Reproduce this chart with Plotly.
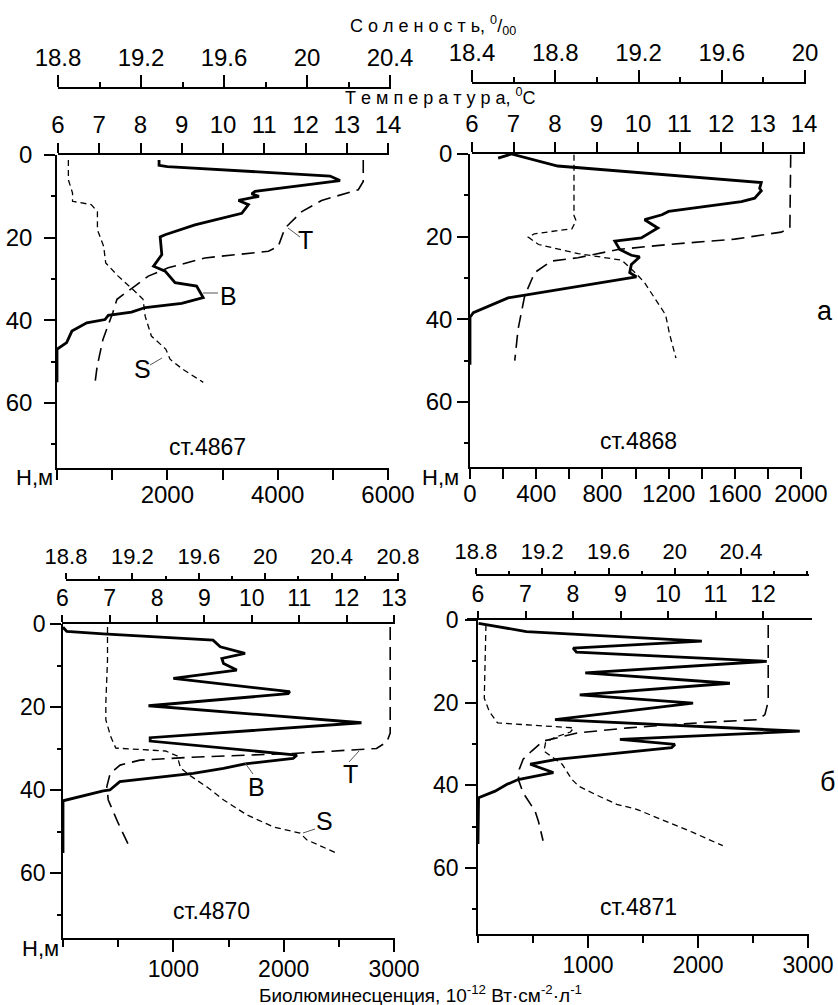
import plotly.graph_objects as go

W, H = 838, 1005
FONT = "Liberation Sans, Arial, sans-serif"

# ---------------- data (depth, m ; values) ----------------
# ст.4867
st4867_B_depth = [1.2, 2.5, 2.8, 5.1, 6.2, 8.8, 9.4, 10.0, 11.0, 12.0, 14.1, 15.7, 16.9, 19.3, 19.8, 24.1, 26.9,
                  28.1, 30.9, 31.7, 34.5, 35.9, 36.9, 38.0, 38.8, 39.8, 40.6, 42.6, 45.4, 47.0, 55.0]
st4867_B = [1850, 1850, 2000, 4950, 5130, 3590, 3530, 3660, 3290, 3470, 3350, 2870, 2500, 1960, 1870, 1900, 1750,
            1960, 2140, 2530, 2650, 2260, 1600, 1350, 930, 870, 540, 270, 175, 0, 0]
st4867_T_depth = [1.2, 6.4, 8.4, 11.0, 13.7, 17.7, 22.1, 23.3, 24.9, 27.3, 29.3, 31.7, 34.9, 38.1, 44.6, 51.1, 54.9]
st4867_T = [13.40, 13.40, 13.28, 12.39, 11.91, 11.50, 11.34, 11.10, 9.56, 8.67, 8.19, 7.87, 7.43, 7.33, 7.09, 6.95, 6.90]
st4867_S_depth = [1.2, 6.0, 9.2, 11.2, 12.0, 13.7, 18.1, 22.1, 26.1, 29.3, 32.5, 34.9, 39.0, 43.8, 47.0, 49.4, 51.8, 55.0]
st4867_S = [18.85, 18.85, 18.87, 18.87, 18.96, 18.99, 18.99, 19.02, 19.03, 19.09, 19.16, 19.21, 19.22, 19.25, 19.32,
            19.34, 19.40, 19.50]

# ст.4868
st4868_B_depth = [1.0, 0.0, 2.9, 6.9, 8.3, 8.9, 10.7, 11.5, 13.9, 14.7, 15.9, 17.9, 20.3, 21.1, 23.1, 24.5, 24.9,
                  26.7, 28.7, 29.7, 34.8, 38.4, 39.5, 51.0]
st4868_B = [170, 250, 530, 1760, 1750, 1760, 1720, 1640, 1200, 1160, 1055, 1135, 1035, 875, 905, 975, 1025,
            975, 965, 1005, 230, 20, 0, 0]
st4868_T_depth = [0.2, 17.9, 18.9, 20.6, 21.9, 23.1, 25.1, 25.9, 28.7, 34.3, 42.4, 50.0]
st4868_T = [13.68, 13.66, 13.45, 12.33, 10.72, 9.52, 8.55, 7.91, 7.51, 7.27, 7.11, 7.03]
st4868_S_depth = [0.2, 14.9, 16.1, 18.1, 19.3, 20.1, 21.9, 24.1, 25.7, 29.0, 31.2, 34.9, 38.9, 43.7, 49.4]
st4868_S = [18.89, 18.89, 18.90, 18.88, 18.70, 18.67, 18.72, 18.91, 19.12, 19.19, 19.23, 19.28, 19.33, 19.35, 19.38]

# ст.4870
st4870_B_depth = [0.8, 1.8, 2.4, 3.9, 5.5, 7.1, 8.3, 9.5, 11.1, 13.1, 16.3, 16.8, 19.7, 23.8, 27.4, 28.2, 31.6,
                  32.4, 33.7, 34.8, 36.0, 38.0, 40.0, 40.2, 42.6, 55.2]
st4870_B = [0, 35, 365, 1360, 1425, 1650, 1440, 1455, 1575, 1000, 2055, 2040, 775, 2705, 790, 790, 2120,
            2085, 1650, 1455, 1180, 515, 425, 365, 0, 0]
st4870_T_depth = [0.7, 26.3, 28.4, 30.0, 31.2, 32.1, 32.8, 34.0, 36.0, 39.2, 42.4, 48.0, 54.0]
st4870_T = [12.92, 12.92, 12.85, 12.63, 10.87, 8.73, 7.64, 7.22, 7.01, 6.94, 6.97, 7.18, 7.43]
st4870_S_depth = [0.7, 8.7, 19.0, 23.1, 27.2, 29.9, 30.6, 31.8, 34.7, 36.6, 39.3, 42.4, 46.0, 48.9, 50.4, 52.0, 55.2]
st4870_S = [19.05, 19.05, 19.04, 19.04, 19.07, 19.10, 19.40, 19.47, 19.49, 19.55, 19.65, 19.75, 19.89, 20.05,
            20.21, 20.25, 20.43]

# ст.4871
st4871_B_depth = [0.8, 2.8, 5.1, 6.8, 7.8, 10.0, 12.8, 15.3, 18.1, 20.1, 24.1, 26.9, 28.9, 30.1, 30.9, 33.7,
                  34.9, 36.9, 38.6, 39.8, 41.4, 43.0, 54.2]
st4871_B = [5, 440, 2035, 865, 895, 2625, 975, 2290, 925, 1955, 700, 2925, 1290, 1790, 1760, 715,
            475, 685, 365, 260, 155, 5, 0]
st4871_T_depth = [1.2, 19.7, 22.9, 24.1, 24.7, 26.1, 27.3, 28.5, 29.3, 31.7, 33.7, 36.1, 38.6, 41.8, 43.8, 46.2,
                  48.6, 51.8, 53.4]
st4871_T = [12.11, 12.11, 12.04, 11.90, 10.85, 9.16, 8.11, 7.69, 7.37, 7.13, 6.95, 6.87, 6.85, 6.95, 7.06, 7.20,
            7.27, 7.34, 7.37]
st4871_S_depth = [1.2, 14.9, 18.9, 22.1, 24.9, 26.1, 27.1, 28.5, 29.7, 31.7, 32.9, 34.9, 38.6, 40.2, 42.2, 44.6,
                  45.8, 47.4, 49.4, 51.4, 54.6]
st4871_S = [18.86, 18.85, 18.85, 18.88, 18.93, 19.39, 19.37, 19.27, 19.22, 19.21, 19.25, 19.32, 19.38, 19.42,
            19.52, 19.65, 19.77, 19.87, 19.99, 20.11, 20.29]

station_names = ["ст.4867", "ст.4868", "ст.4870", "ст.4871"]

# tick labels
depth_ticks = [0, 20, 40, 60]
temp_ticks = [[6, 7, 8, 9, 10, 11, 12, 13, 14], [6, 7, 8, 9, 10, 11, 12, 13, 14],
              [6, 7, 8, 9, 10, 11, 12, 13], [6, 7, 8, 9, 10, 11, 12]]
sal_ticks = [[18.8, 19.2, 19.6, 20.0, 20.4], [18.4, 18.8, 19.2, 19.6, 20.0],
             [18.8, 19.2, 19.6, 20.0, 20.4, 20.8], [18.8, 19.2, 19.6, 20.0, 20.4]]
bio_ticks = [[2000, 4000, 6000], [0, 400, 800, 1200, 1600, 2000], [1000, 2000, 3000], [1000, 2000, 3000]]

data = [
    (st4867_B_depth, st4867_B, st4867_T_depth, st4867_T, st4867_S_depth, st4867_S),
    (st4868_B_depth, st4868_B, st4868_T_depth, st4868_T, st4868_S_depth, st4868_S),
    (st4870_B_depth, st4870_B, st4870_T_depth, st4870_T, st4870_S_depth, st4870_S),
    (st4871_B_depth, st4871_B, st4871_T_depth, st4871_T, st4871_S_depth, st4871_S),
]

# ---------------- layout geometry (pixels) ----------------
geom = [
    dict(ycal=(155, 0, 403, 60), ydom=(468, 154.5), yso=7,
         bio=dict(dom=(57, 389), cal=(57, 0, 388, 6000), minor=1000, tl=10, mtl=10, so=-6),
         tem=dict(dom=(58, 389), cal=(58, 6, 388, 14), tl=10),
         sal=dict(dom=(58, 391), cal=(58, 18.8, 390, 20.4), pos=88, tl=12, mtl=5),
         small=False),
    dict(ycal=(154, 0, 402, 60), ydom=(467, 153.5), yso=0,
         bio=dict(dom=(470, 802), cal=(470, 0, 801, 2000), minor=200, tl=10, mtl=10, so=-6),
         tem=dict(dom=(472, 805), cal=(472, 6, 804, 14), tl=10),
         sal=dict(dom=(472, 806), cal=(472, 18.4, 805, 20.0), pos=83, tl=12, mtl=5),
         small=False),
    dict(ycal=(624, 0, 873, 60), ydom=(938, 623.5), yso=0,
         bio=dict(dom=(63, 395), cal=(63, 0, 394, 3000), minor=500, tl=12, mtl=7, so=-2),
         tem=dict(dom=(62, 395), cal=(62.3, 6, 394, 13), tl=7),
         sal=dict(dom=(66, 399), cal=(66, 18.8, 398, 20.8), pos=580, tl=6, mtl=3),
         small=True),
    dict(ycal=(620, 0, 868, 60), ydom=(934, 619.5), yso=2,
         bio=dict(dom=(478, 809), cal=(478, 0, 808, 3000), minor=500, tl=12, mtl=7, so=-2),
         tem=dict(dom=(467, 812), cal=(478, 6, 763, 12), tl=7),
         sal=dict(dom=(476, 809), cal=(476, 18.8, 741, 20.4), pos=575, tl=6, mtl=3),
         small=True),
]


def fx(p):
    return p / W


def fy(p):
    return 1 - p / H


def lin_range(cal, a, b):
    p0, v0, p1, v1 = cal
    k = (v1 - v0) / (p1 - p0)
    return [v0 + (a - p0) * k, v0 + (b - p0) * k]


def fmt(v):
    s = ("%.1f" % v)
    return s[:-2] if s.endswith(".0") else s


fig = go.Figure()
layout = dict(width=W, height=H, margin=dict(l=0, r=0, t=0, b=0, pad=0, autoexpand=False),
              paper_bgcolor="white", plot_bgcolor="rgba(0,0,0,0)", showlegend=False,
              font=dict(family=FONT, color="black", size=24))

LW = 1.6
TFS = 24
for i, g in enumerate(geom):
    bx, tx, sx = 3 * i + 1, 3 * i + 2, 3 * i + 3
    yi = i + 1
    bname = "xaxis" if bx == 1 else "xaxis%d" % bx
    yname = "yaxis" if yi == 1 else "yaxis%d" % yi
    yref = "y" if yi == 1 else "y%d" % yi
    bref = "x" if bx == 1 else "x%d" % bx
    fs = 23 if g["small"] else TFS

    common = dict(showline=True, linecolor="black", linewidth=LW, showgrid=False, zeroline=False,
                  ticks="outside", tickwidth=LW, tickcolor="black", automargin=False, tickmode="array")

    # depth axis
    layout[yname] = dict(
        domain=[fy(g["ydom"][0]), fy(g["ydom"][1])],
        range=lin_range(g["ycal"], g["ydom"][0], g["ydom"][1]),
        anchor=bref, side="left", ticklen=11, ticklabelstandoff=g["yso"],
        tickvals=depth_ticks, ticktext=[str(v) for v in depth_ticks],
        tickfont=dict(size=fs, family=FONT, color="black"),
        minor=dict(tickmode="linear", tick0=10, dtick=20, ticks="outside", ticklen=4,
                   tickwidth=LW, tickcolor="black", showgrid=False),
        **common,
    )
    # bioluminescence axis (bottom)
    b = g["bio"]
    layout[bname] = dict(
        domain=[fx(b["dom"][0]), fx(b["dom"][1])],
        range=lin_range(b["cal"], b["dom"][0], b["dom"][1]),
        anchor=yref, side="bottom", ticklen=b["tl"], ticklabelstandoff=b["so"],
        tickvals=bio_ticks[i], ticktext=[str(v) for v in bio_ticks[i]],
        tickfont=dict(size=fs, family=FONT, color="black"),
        minor=dict(tickmode="linear", tick0=0, dtick=b["minor"], ticks="outside", ticklen=b["mtl"],
                   tickwidth=LW, tickcolor="black", showgrid=False),
        **common,
    )
    # temperature axis (top)
    t = g["tem"]
    layout["xaxis%d" % tx] = dict(
        domain=[fx(t["dom"][0]), fx(t["dom"][1])],
        range=lin_range(t["cal"], t["dom"][0], t["dom"][1]),
        anchor=yref, side="top", ticklen=t["tl"],
        tickvals=temp_ticks[i], ticktext=[str(v) for v in temp_ticks[i]],
        tickfont=dict(size=fs, family=FONT, color="black"),
        **common,
    )
    # salinity axis (free, top)
    s = g["sal"]
    layout["xaxis%d" % sx] = dict(
        domain=[fx(s["dom"][0]), fx(s["dom"][1])],
        range=lin_range(s["cal"], s["dom"][0], s["dom"][1]),
        anchor="free", position=fy(s["pos"]), side="top", ticklen=s["tl"],
        tickvals=sal_ticks[i], ticktext=[fmt(v) for v in sal_ticks[i]],
        tickfont=dict(size=fs - 1 if g["small"] else fs, family=FONT, color="black"),
        minor=dict(tickmode="linear", tick0=sal_ticks[i][0], dtick=0.2, ticks="outside", ticklen=s["mtl"],
                   tickwidth=LW, tickcolor="black", showgrid=False),
        **common,
    )

    Bd, Bv, Td, Tv, Sd, Sv = data[i]
    fig.add_trace(go.Scatter(x=Bv, y=Bd, xaxis=bref, yaxis=yref, mode="lines",
                             line=dict(color="black", width=2.8), hoverinfo="skip"))
    fig.add_trace(go.Scatter(x=Tv, y=Td, xaxis="x%d" % tx, yaxis=yref, mode="lines",
                             line=dict(color="black", width=1.6, dash="13px,7px"), hoverinfo="skip"))
    fig.add_trace(go.Scatter(x=Sv, y=Sd, xaxis="x%d" % sx, yaxis=yref, mode="lines",
                             line=dict(color="black", width=1.3, dash="6px,4px"), hoverinfo="skip"))

annotations = []


def ann(text, px, py, size, **kw):
    d = dict(text=text, x=fx(px), y=fy(py), xref="paper", yref="paper", showarrow=False,
             xanchor="center", yanchor="middle", font=dict(size=size, family=FONT, color="black"))
    d.update(kw)
    annotations.append(d)


ann("С о л е н о с т ь, <sup>0</sup>/<sub>00</sub>", 433, 26, 18)
ann("Т е м п е р а т у р а, <sup>0</sup>С", 440, 97, 18)
ann("Биолюминесценция, 10<sup>-12</sup> Вт·см<sup>-2</sup>·л<sup>-1</sup>", 420, 994, 19)

ann(station_names[0], 207, 447, 23)
ann(station_names[1], 638, 441, 23)
ann(station_names[2], 211, 911, 23)
ann(station_names[3], 638, 907, 23)

ann("а", 825, 311, 27)
ann("б", 827, 782, 27)

ann("Н,м", 34, 477, 22)
ann("Н,м", 440, 477, 22)
ann("Н,м", 40, 948, 22)

# curve labels
ann("T", 305, 240, 25)
ann("B", 228, 296, 25)
ann("S", 142, 369, 25)
ann("T", 350, 774, 25)
ann("B", 256, 787, 25)
ann("S", 324, 821, 25)

layout["annotations"] = annotations

leaders = [((288, 228), (300, 237)), ((203, 293), (218, 293)), ((150, 365), (162, 358)),
           ((349, 762), (359, 751)), ((245, 763), (253, 774)), ((303, 833), (315, 829))]
layout["shapes"] = [dict(type="line", xref="paper", yref="paper", x0=fx(a[0]), y0=fy(a[1]),
                         x1=fx(c[0]), y1=fy(c[1]), line=dict(color="#555555", width=1))
                    for a, c in leaders]

fig.update_layout(**layout)
fig.write_html("out.html")
